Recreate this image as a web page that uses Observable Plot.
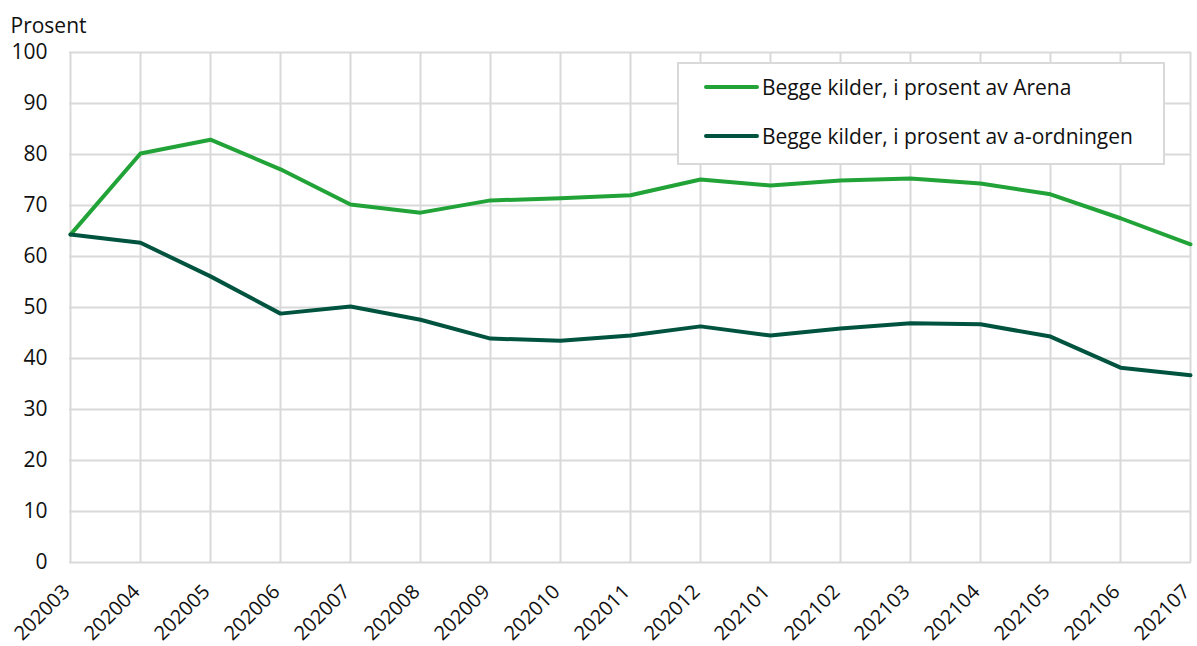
<!DOCTYPE html>
<html>
<head>
<meta charset="utf-8">
<script src="https://cdn.jsdelivr.net/npm/d3@7"></script>
<script src="https://cdn.jsdelivr.net/npm/@observablehq/plot@0.6"></script>
<style>
  html, body { margin: 0; padding: 0; background: #fff; }
  #wrap { position: relative; width: 1197px; height: 646px; font-family: "Open Sans", "Noto Sans", sans-serif; }
  #wrap svg text { font-size: 21px; }
  #wrap svg g.xaxis text { font-size: 20px; }
  #legend { position: absolute; left: 677px; top: 62px; width: 484px; height: 99px; border: 2px solid #d9d9d9; background: #fff; box-sizing: content-box; }
  .row { position: absolute; left: 25px; display: flex; align-items: center; font-size: 21px; color: #111; line-height: 28px; }
  .sw { width: 55px; height: 4px; border-radius: 2px; margin-right: 3px; }
</style>
</head>
<body>
<div id="wrap"><div id="legend"></div></div>
<script>
const months = ["202003","202004","202005","202006","202007","202008","202009","202010","202011","202012","202101","202102","202103","202104","202105","202106","202107"];
const arena = [64.3,80.2,82.9,77.1,70.2,68.6,71.0,71.4,72.0,75.1,73.9,74.9,75.3,74.3,72.2,67.5,62.4];
const aord = [64.3,62.7,56.1,48.8,50.2,47.6,43.9,43.5,44.5,46.3,44.5,45.9,46.9,46.7,44.3,38.2,36.7];
const seriesNames = ["Begge kilder, i prosent av Arena", "Begge kilder, i prosent av a-ordningen"];
const seriesColors = ["#21a338", "#00543f"];
const yTicks = [0,10,20,30,40,50,60,70,80,90,100];

const data = [];
months.forEach((m, i) => {
  data.push({month: m, value: arena[i], series: seriesNames[0]});
  data.push({month: m, value: aord[i], series: seriesNames[1]});
});

const chart = Plot.plot({
  width: 1197,
  height: 646,
  marginLeft: 69,
  marginRight: 6,
  marginTop: 52,
  marginBottom: 84,
  style: {fontFamily: "'Open Sans', 'Noto Sans', sans-serif", fontSize: "21px", color: "#111", background: "#fff"},
  x: {type: "point", domain: months, padding: 0},
  y: {domain: [0, 100]},
  color: {domain: seriesNames, range: seriesColors},
  marks: [
    Plot.gridX(months, {stroke: "#d9d9d9", strokeOpacity: 1, strokeWidth: 2}),
    Plot.gridY(yTicks, {stroke: "#d9d9d9", strokeOpacity: 1, strokeWidth: 2}),
    Plot.axisY(yTicks, {tickSize: 0, tickPadding: 22, label: null, fontSize: 21}),
    Plot.axisX(months, {tickSize: 0, tickPadding: 26, tickRotate: -45, label: null, fontSize: 20, dx: -4, className: "xaxis"}),
    Plot.line(data, {x: "month", y: "value", stroke: "series", z: "series", strokeWidth: 4, strokeLinejoin: "round"}),
    Plot.text(["Prosent"], {frameAnchor: "top-left", dx: -59, dy: -34, text: d => d, textAnchor: "start", fontSize: 21, fill: "#111"})
  ]
});
document.getElementById("wrap").prepend(chart);

const legend = document.getElementById("legend");
seriesNames.forEach((name, i) => {
  const row = document.createElement("div");
  row.className = "row";
  row.style.top = (i === 0 ? 9 : 58) + "px";
  const sw = document.createElement("div");
  sw.className = "sw";
  sw.style.background = seriesColors[i];
  const t = document.createElement("span");
  t.textContent = name;
  row.appendChild(sw);
  row.appendChild(t);
  legend.appendChild(row);
});
</script>
</body>
</html>
